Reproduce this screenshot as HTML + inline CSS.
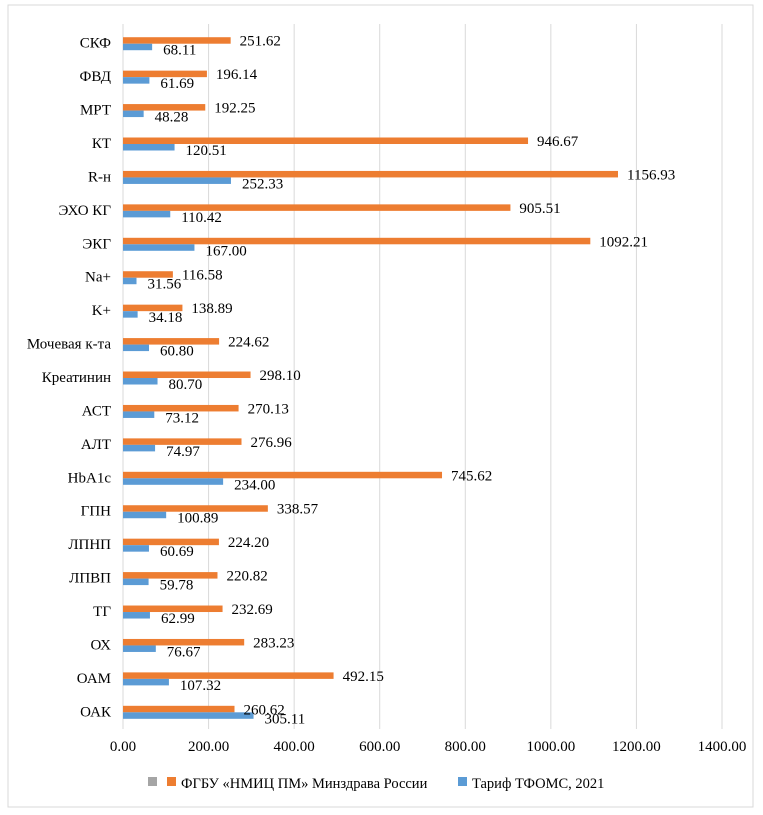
<!DOCTYPE html>
<html><head><meta charset="utf-8"><style>
body{margin:0;background:#fff;}
svg{display:block;font-family:"Liberation Serif","DejaVu Serif",serif;}
</style></head><body>
<svg id="chart" width="763" height="815">
<rect x="8" y="5" width="745" height="802" fill="#fff" stroke="#d9d9d9"/>
<g id="grid"></g><g id="bars"></g><g id="labels"></g><g id="xticks"></g>
<g font-size="14.5">
<rect x="148" y="777" width="9" height="9" fill="#a5a5a5"/>
<rect x="167" y="777" width="9" height="9" fill="#ed7d31"/>
<text x="181" y="788">ФГБУ «НМИЦ ПМ» Минздрава России</text>
<rect x="458" y="777" width="9" height="9" fill="#5b9bd5"/>
<text x="472" y="788">Тариф ТФОМС, 2021</text>
</g>
</svg>
<script>
const categories=["СКФ","ФВД","МРТ","КТ","R-н","ЭХО КГ","ЭКГ","Na+","K+","Мочевая к-та","Креатинин","АСТ","АЛТ","HbA1c","ГПН","ЛПНП","ЛПВП","ТГ","ОХ","ОАМ","ОАК"];
const nmicValues=[251.62,196.14,192.25,946.67,1156.93,905.51,1092.21,116.58,138.89,224.62,298.10,270.13,276.96,745.62,338.57,224.20,220.82,232.69,283.23,492.15,260.62];
const tfomsValues=[68.11,61.69,48.28,120.51,252.33,110.42,167.00,31.56,34.18,60.80,80.70,73.12,74.97,234.00,100.89,60.69,59.78,62.99,76.67,107.32,305.11];
const xTicks=[0,200,400,600,800,1000,1200,1400];
const NS="http://www.w3.org/2000/svg";
const x0=123,xMax=1400,xW=599,plotTop=26,band=33.43;
const xs=v=>x0+v/xMax*xW;
const yc=i=>plotTop+band*(i+0.5);
function mk(tag,attrs,parent,txt){const e=document.createElementNS(NS,tag);for(const k in attrs)e.setAttribute(k,attrs[k]);if(txt!==undefined)e.textContent=txt;document.getElementById(parent).appendChild(e);return e;}
xTicks.forEach(t=>{
 const l=mk('line',{x1:xs(t),x2:xs(t),y1:24,y2:729,stroke:'#d9d9d9'},'grid');
 
 
 const tx=mk('text',{x:xs(t),y:751,'text-anchor':'middle','font-size':'15'},'xticks',t.toFixed(2));
 
 
});
categories.forEach((c,i)=>{
 const y=yc(i);
 const cl=mk('text',{x:111,y:y+5,'text-anchor':'end','font-size':'15'},'labels',c);
 
 
 const o=mk('rect',{x:x0,y:y-5.5,width:xs(nmicValues[i])-x0,height:6.5,fill:'#ed7d31'},'bars');
 
 
 const b=mk('rect',{x:x0,y:y+1,width:xs(tfomsValues[i])-x0,height:6.5,fill:'#5b9bd5'},'bars');
 
 
 const ol=mk('text',{x:xs(nmicValues[i])+9,y:y+3,'font-size':'15'},'labels',nmicValues[i].toFixed(2));
 
 
 const bl=mk('text',{x:xs(tfomsValues[i])+11,y:y+12,'font-size':'15'},'labels',tfomsValues[i].toFixed(2));
 
 
});
</script>
</body></html>
